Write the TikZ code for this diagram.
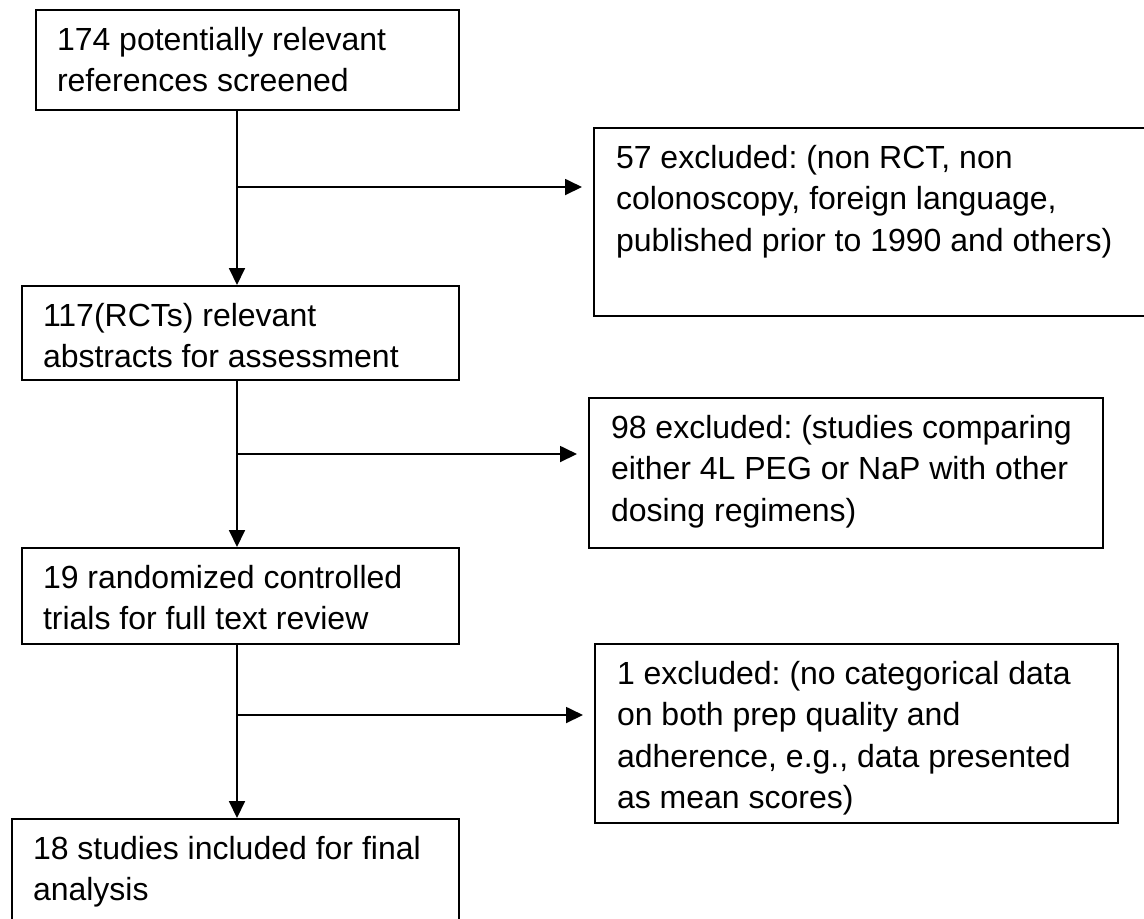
\documentclass[tikz,border=0pt]{standalone}
\usepackage{fontspec}
\setmainfont{Liberation Sans}
\usetikzlibrary{arrows.meta,positioning,calc}
\frenchspacing
\newcommand{\boxtext}[3]{\parbox[b][#2][t]{#1}{\raggedright #3}}
\tikzset{
  box/.style={draw=black,line width=1pt,anchor=north west,inner xsep=10.5pt,
    inner ysep=8.5pt,font=\fontsize{16pt}{20.75pt}\selectfont},
  exbox/.style={box,inner xsep=11pt},
  flow/.style={-{Triangle[length=8.5pt,width=8pt]},line width=0.9pt,draw=black},
  branch/.style={flow,shorten >=5.5pt},
}

\begin{document}
\begin{tikzpicture}[x=0.5pt,y=-0.5pt]
  \useasboundingbox (0,0) rectangle (1144,918);
  \fill[white] (0,0) rectangle (1144,918);
  % --- screening stages (left column) ---
  \node[box] (s1) at (35,9)
    {\boxtext{190.5pt}{33pt}{174 potentially relevant\\references screened}};
  \node[box] (s2) at (21,285)
    {\boxtext{197.5pt}{30pt}{117(RCTs) relevant\\abstracts for assessment}};
  \node[box] (s3) at (21,547)
    {\boxtext{197.5pt}{31pt}{19 randomized controlled\\trials for full text review}};
  \node[box] (s4) at (11,818)
    {\boxtext{202.5pt}{36pt}{18 studies included for final\\analysis}};
  % --- exclusions (right column) ---
  \node[exbox] (e1) at (593,127)
    {\boxtext{256.5pt}{77pt}{57 excluded: (non RCT, non\\colonoscopy, foreign language,\\published prior to 1990 and others)}};
  \node[exbox] (e2) at (588,397)
    {\boxtext{235pt}{58pt}{98 excluded: (studies comparing\\either 4L PEG or NaP with other\\dosing regimens)}};
  \node[exbox] (e3) at (594,643)
    {\boxtext{239.5pt}{72.5pt}{1 excluded: (no categorical data\\on both prep quality and\\adherence, e.g., data presented\\as mean scores)}};
  % branch points on the main line
  \coordinate (b1) at (237,187);
  \coordinate (b2) at (237,454);
  \coordinate (b3) at (237,715);
  \draw[flow] (b1 |- s1.south) -- (b1 |- s2.north);
  \draw[flow] (b2 |- s2.south) -- (b2 |- s3.north);
  \draw[flow] (b3 |- s3.south) -- (b3 |- s4.north);
  \draw[branch] (b1) -- (b1 -| e1.west);
  \draw[branch] (b2) -- (b2 -| e2.west);
  \draw[branch] (b3) -- (b3 -| e3.west);
\end{tikzpicture}
\end{document}
